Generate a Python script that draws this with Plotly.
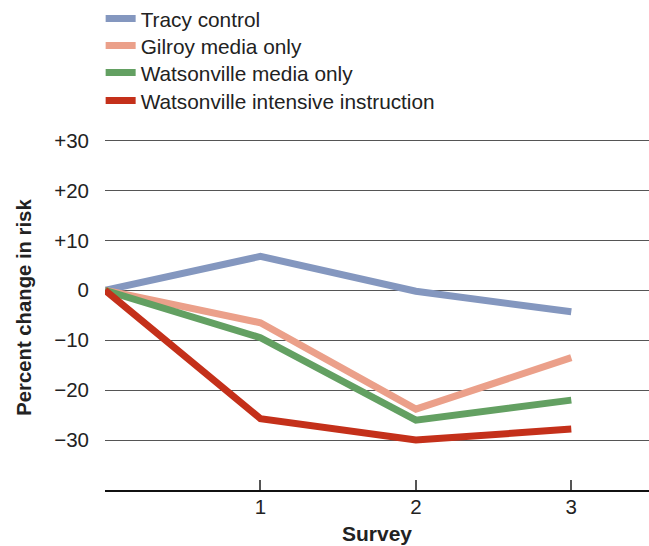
import plotly.graph_objects as go

surveys = [0, 1, 2, 3]
tracy = [0, 6.8, -0.2, -4.3]
gilroy = [0, -6.5, -23.8, -13.5]
wats_media = [0, -9.5, -26.0, -22.0]
wats_intensive = [0, -25.7, -30.0, -27.8]

series_names = ["Tracy control", "Gilroy media only", "Watsonville media only",
                "Watsonville intensive instruction"]
colors = ["#8497BF", "#EBA08A", "#63A062", "#C4301A"]
ytick_vals = [30, 20, 10, 0, -10, -20, -30]
ytick_text = ["+30", "+20", "+10", "0", "\u221210", "\u221220", "\u221230"]
xtick_vals = [1, 2, 3]
xtick_text = ["1", "2", "3"]

W, H = 649, 546
legend_ids = ["legend", "legend2", "legend3", "legend4"]
legend_px = [19, 46, 73, 101]

fig = go.Figure()
for name, vals, c, lid in zip(series_names, [tracy, gilroy, wats_media, wats_intensive],
                              colors, legend_ids):
    fig.add_trace(go.Scatter(x=surveys, y=vals, mode="lines", name=name,
                             legend=lid, line=dict(color=c, width=7)))

font_family = "Liberation Sans, Arial, Helvetica, sans-serif"
legend_layout = {}
for lid, py in zip(legend_ids, legend_px):
    legend_layout[lid] = dict(x=-0.008, y=1 - py / H, xanchor="left", yanchor="middle",
                              yref="container", font=dict(size=20.8, color="#222"),
                              bgcolor="rgba(0,0,0,0)", itemwidth=30)

fig.update_layout(
    width=W, height=H,
    paper_bgcolor="white", plot_bgcolor="white",
    margin=dict(l=105, r=0, t=138, b=56, autoexpand=False),
    font=dict(family=font_family, size=20, color="#222"),
    showlegend=True,
    xaxis=dict(range=[0, 3.5], tickvals=xtick_vals, ticktext=xtick_text,
               showgrid=False, zeroline=False, showline=True,
               linecolor="#111", linewidth=2, ticks="inside", ticklen=10,
               tickcolor="#555", tickwidth=1.5, tickfont=dict(size=20.5),
               ticklabelstandoff=-3,
               title=dict(text="<b>Survey</b>", font=dict(size=21), standoff=10)),
    yaxis=dict(range=[-40, 30.5], tickvals=ytick_vals, ticktext=ytick_text,
               showgrid=True, gridcolor="#555", gridwidth=1, zeroline=False,
               showline=False, ticks="", ticklabelstandoff=15, tickfont=dict(size=20.5)),
    annotations=[dict(text="<b>Percent change in risk</b>", textangle=-90,
                      xref="paper", yref="paper", x=(24 - 105) / 544,
                      y=(490 - 308) / 351.5, xanchor="center", yanchor="middle",
                      showarrow=False, font=dict(size=20.3, color="#222"))],
    **legend_layout,
)
fig.write_html("out.html", config={"displayModeBar": False},
               post_script="document.body.style.margin='0';")
